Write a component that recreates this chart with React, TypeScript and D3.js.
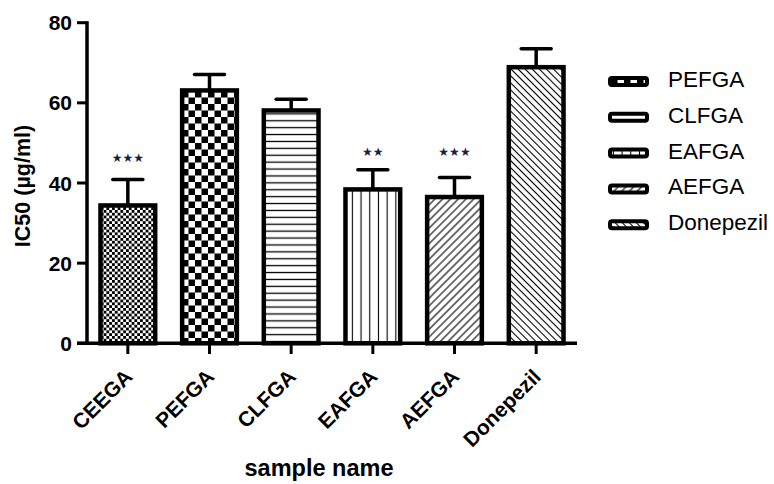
import React from "react";
import * as d3 from "d3";

const categories = ["CEEGA", "PEFGA", "CLFGA", "EAFGA", "AEFGA", "Donepezil"];
const means = [34.4, 63.1, 58.1, 38.4, 36.5, 68.9];
const errors = [6.5, 4.0, 2.8, 4.9, 4.9, 4.6];
const stars = ["★★★", "", "", "★★", "★★★", ""];
const starValues = [46.2, 0, 0, 47.7, 47.7, 0];
const yTicks = [0, 20, 40, 60, 80];
const legendItems = ["PEFGA", "CLFGA", "EAFGA", "AEFGA", "Donepezil"];
const patternIds = ["pFine", "pChecker", "pHoriz", "pVert", "pDiagR", "pDiagL"];

const W = 774;
const H = 484;
const FONT = "'Liberation Sans', Arial, sans-serif";

export default function App() {
  const x = d3.scaleBand<string>().domain(categories).range([87, 577]).paddingInner(0.33).paddingOuter(0.165);
  const y = d3.scaleLinear().domain([0, 80]).range([343.3, 22.7]);
  const bw = x.bandwidth();

  return (
    <svg width={W} height={H} style={{ position: "absolute", left: 0, top: 0, background: "#fff" }}>
      <defs>
        <pattern id="pFine" patternUnits="userSpaceOnUse" width={5.6} height={5.6}>
          <rect width={5.6} height={5.6} fill="#fff" />
          <rect width={2.8} height={2.8} fill="#000" />
          <rect x={2.8} y={2.8} width={2.8} height={2.8} fill="#000" />
        </pattern>
        <pattern id="pChecker" patternUnits="userSpaceOnUse" width={13} height={13}>
          <rect width={13} height={13} fill="#fff" />
          <rect width={6.5} height={6.5} fill="#000" />
          <rect x={6.5} y={6.5} width={6.5} height={6.5} fill="#000" />
        </pattern>
        <pattern id="pHoriz" patternUnits="userSpaceOnUse" width={10} height={6.9}>
          <rect width={10} height={6.9} fill="#fff" />
          <line x1={0} x2={10} y1={3.45} y2={3.45} stroke="#000" strokeWidth={1.3} />
        </pattern>
        <pattern id="pVert" patternUnits="userSpaceOnUse" width={8.7} height={10}>
          <rect width={8.7} height={10} fill="#fff" />
          <line y1={0} y2={10} x1={4.35} x2={4.35} stroke="#000" strokeWidth={1.1} />
        </pattern>
        <pattern id="pDiagR" patternUnits="userSpaceOnUse" width={5.5} height={5.5} patternTransform="rotate(45)">
          <rect width={5.5} height={5.5} fill="#fff" />
          <line x1={2.75} x2={2.75} y1={0} y2={5.5} stroke="#000" strokeWidth={1.1} />
        </pattern>
        <pattern id="pDiagL" patternUnits="userSpaceOnUse" width={5} height={5} patternTransform="rotate(-45)">
          <rect width={5} height={5} fill="#fff" />
          <line x1={2.5} x2={2.5} y1={0} y2={5} stroke="#000" strokeWidth={1.1} />
        </pattern>
      </defs>

      {/* bars */}
      {categories.map((c, i) => {
        const x0 = x(c)!;
        const cx = x0 + bw / 2;
        return (
          <g key={c}>
            <line x1={cx} x2={cx} y1={y(means[i])} y2={y(means[i] + errors[i])} stroke="#000" strokeWidth={3.5} />
            <line x1={cx - 15} x2={cx + 15} y1={y(means[i] + errors[i])} y2={y(means[i] + errors[i])} stroke="#000" strokeWidth={3.5} strokeLinecap="round" />
            <rect x={x0} y={y(means[i])} width={bw} height={y(0) - y(means[i])} fill={`url(#${patternIds[i]})`} stroke="#000" strokeWidth={4.5} />
            {stars[i] && (
              <text x={cx} y={y(starValues[i])} textAnchor="middle" dominantBaseline="central" fontFamily="'DejaVu Sans', sans-serif" fontSize={12} fill="#1e1e3a">
                {stars[i]}
              </text>
            )}
          </g>
        );
      })}

      {/* y axis */}
      <line x1={87} x2={87} y1={y(80) - 1.5} y2={y(0) + 1.5} stroke="#000" strokeWidth={3.5} />
      {yTicks.map((t) => (
        <g key={t}>
          <line x1={77} x2={87} y1={y(t)} y2={y(t)} stroke="#000" strokeWidth={3} />
          <text x={72} y={y(t)} dy="0.36em" textAnchor="end" fontFamily={FONT} fontWeight="bold" fontSize={21} fill="#000">
            {t}
          </text>
        </g>
      ))}
      <text transform="translate(29.5,186) rotate(-90)" textAnchor="middle" fontFamily={FONT} fontWeight="bold" fontSize={21.5} fill="#000">
        IC50 (µg/ml)
      </text>

      {/* x axis */}
      <line x1={77} x2={577} y1={y(0)} y2={y(0)} stroke="#000" strokeWidth={3.5} />
      {categories.map((c) => {
        const cx = x(c)! + bw / 2;
        return (
          <g key={c}>
            <line x1={cx} x2={cx} y1={y(0)} y2={354} stroke="#000" strokeWidth={3} />
            <text transform={`translate(${cx + 6},378) rotate(-45)`} textAnchor="end" fontFamily={FONT} fontWeight="bold" fontSize={21} fill="#000">
              {c}
            </text>
          </g>
        );
      })}
      <text x={319} y={476} textAnchor="middle" fontFamily={FONT} fontWeight="bold" fontSize={23.5} fill="#000">
        sample name
      </text>

      {/* legend */}
      {legendItems.map((l, i) => {
        const by = 87 + i * 35.8;
        return (
          <g key={l}>
            <rect x={610} y={by - 9} width={37} height={7} rx={2} fill={`url(#${patternIds[i + 1]})`} stroke="#000" strokeWidth={4} />
            <text x={668} y={by} fontFamily={FONT} fontSize={22.5} fill="#000">
              {l}
            </text>
          </g>
        );
      })}
    </svg>
  );
}
